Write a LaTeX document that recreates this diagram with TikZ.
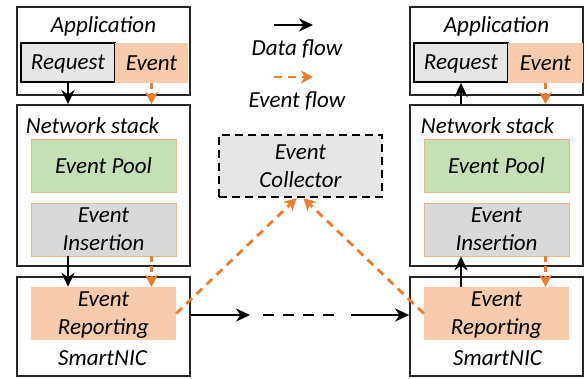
\documentclass[tikz,border=0pt]{standalone}
\usepackage{fontspec}
\setmainfont{Carlito}
\usetikzlibrary{arrows.meta,calc}

\definecolor{evfill}{HTML}{F8CBAD}
\definecolor{poolfill}{HTML}{C5E0B4}
\definecolor{insfill}{HTML}{D9D9D9}
\definecolor{reqfill}{HTML}{E7E6E6}
\definecolor{evline}{HTML}{ED7D31}
\definecolor{thinorange}{HTML}{F4B183}
\definecolor{frame}{HTML}{262626}

\tikzset{
  lbl/.style={font=\fontsize{23}{28}\selectfont\itshape, inner sep=0pt, align=center},
  outer/.style={draw=frame, line width=1.8pt, fill=white, inner sep=0pt},
  reqbox/.style={lbl, draw=black, line width=1.8pt, fill=reqfill, text depth=0pt},
  evbox/.style={lbl, fill=evfill, text depth=0pt},
  poolbox/.style={lbl, draw=thinorange, line width=0.8pt, fill=poolfill},
  insbox/.style={lbl, draw=thinorange, line width=0.8pt, fill=insfill},
  repbox/.style={lbl, fill=evfill, text depth=0pt},
  collbox/.style={lbl, draw=black, line width=2.6pt, dash pattern=on 8pt off 5pt, fill=reqfill},
  data/.style={draw=black, line width=2.8pt, -{Stealth[length=14pt,width=13pt,inset=4.5pt]}},
  evt/.style={draw=evline, line width=2.8pt, dash pattern=on 8pt off 6pt,
              -{Stealth[length=12pt,width=13pt,inset=3.5pt]}},
  evshort/.style={evt, dash pattern=on 6pt off 4pt},
}

\begin{document}
\begin{tikzpicture}[x=1pt, y=-1pt]
\useasboundingbox (0,0) rectangle (584,379);

% ---------- left host ----------
\node[outer, minimum width=173pt, minimum height=88pt] (appL) at (103.5,51) {};
\node[lbl] (appLt) at (103.5,26) {Application};
\node[reqbox, minimum width=94pt, minimum height=39pt] (reqL) at (68,62.5) {Request};
\node[evbox, minimum width=73pt, minimum height=40pt] (evL) at (151.5,63) {Event};

\node[outer, minimum width=173pt, minimum height=161pt] (netL) at (103.5,185.5) {};
\node[lbl] (netLt) at (92.5,126) {Network stack};
\node[poolbox, minimum width=145pt, minimum height=53pt] (poolL) at (103.5,165.5) {Event Pool};
\node[insbox, minimum width=145pt, minimum height=53pt] (insL) at (103.5,229.5) {Event\\Insertion};

\node[outer, minimum width=173pt, minimum height=99pt] (nicL) at (103.5,326.5) {};
\node[repbox, minimum width=145pt, minimum height=53pt] (repL) at (103.5,313.5) {Event\\Reporting};
\node[lbl] (nicLt) at (102.5,358) {SmartNIC};

% ---------- right host ----------
\node[outer, minimum width=173pt, minimum height=88pt] (appR) at (496.5,51) {};
\node[lbl] (appRt) at (496.5,26) {Application};
\node[reqbox, minimum width=94pt, minimum height=39pt] (reqR) at (461,62.5) {Request};
\node[evbox, minimum width=75pt, minimum height=40pt] (evR) at (545.5,63) {Event};

\node[outer, minimum width=173pt, minimum height=161pt] (netR) at (496.5,185.5) {};
\node[lbl] (netRt) at (487.5,126) {Network stack};
\node[poolbox, minimum width=145pt, minimum height=53pt] (poolR) at (496.5,165.5) {Event Pool};
\node[insbox, minimum width=145pt, minimum height=53pt] (insR) at (496.5,229.5) {Event\\Insertion};

\node[outer, minimum width=173pt, minimum height=99pt] (nicR) at (496.5,326.5) {};
\node[repbox, minimum width=145pt, minimum height=53pt] (repR) at (496.5,313.5) {Event\\Reporting};
\node[lbl] (nicRt) at (497.5,358) {SmartNIC};

% ---------- legend and collector ----------
\coordinate (lgA1) at (274,25);
\coordinate (lgA2) at (313,25);
\node[lbl] (lgData) at (297,49) {Data flow};
\coordinate (lgE1) at (274,77);
\coordinate (lgE2) at (313,77);
\node[lbl] (lgEvt) at (297,101) {Event flow};
\draw[data] (lgA1) -- (lgA2);
\draw[evt] (lgE1) -- (lgE2);

\node[collbox, minimum width=163pt, minimum height=62pt] (col) at (300.5,166) {Event\\Collector};

% ---------- flows inside left host ----------
\draw[data] (reqL.south) -- (reqL.south |- netL.north);
\draw[evshort] (evL.south) -- (evL.south |- netL.north);
\draw[data] (reqL.south |- insL.south) -- (reqL.south |- repL.north);
\draw[evshort] (evL.south |- insL.south) -- (evL.south |- repL.north);

% ---------- flows inside right host ----------
\draw[data] (reqR.south |- netR.north) -- (reqR.south);
\draw[evshort] (evR.south) -- (evR.south |- netR.north);
\draw[data] (reqR.south |- repR.north) -- (reqR.south |- insR.south);
\draw[evshort] (evR.south |- insR.south) -- (evR.south |- repR.north);

% ---------- network between the NICs ----------
\coordinate (m1) at (250,315);
\coordinate (m2) at (263,315);
\coordinate (m3) at (337,315);
\coordinate (m4) at (351,315);
\draw[data] (nicL.east |- m1) -- (m1);
\draw[draw=black, line width=2.8pt, dash pattern=on 11pt off 9pt] (m2) -- (m3);
\draw[data] (m4) -- (nicR.west |- m4);

% ---------- event reports to the collector ----------
\draw[evt] (repL.east) -- ([xshift=-4pt]col.south);
\draw[evt] (repR.west) -- ([xshift=3pt]col.south);
\end{tikzpicture}
\end{document}
